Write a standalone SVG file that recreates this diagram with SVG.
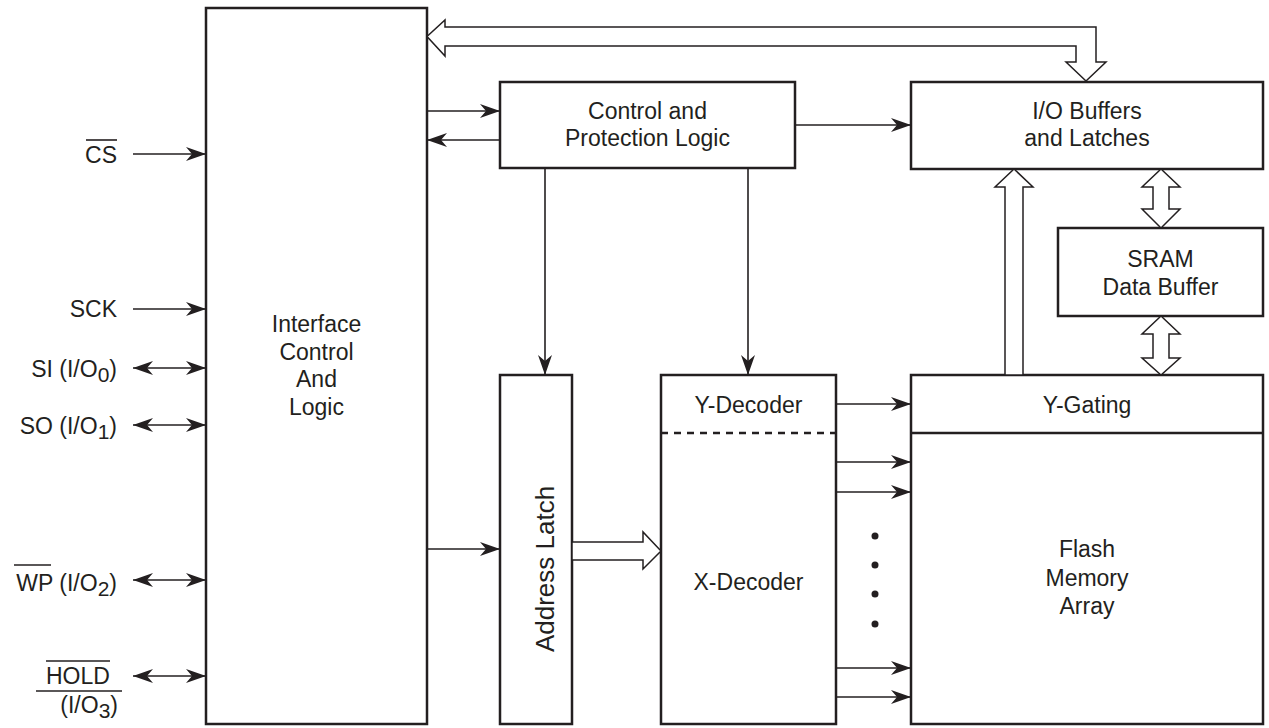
<svg xmlns="http://www.w3.org/2000/svg" width="1269" height="728" viewBox="0 0 1269 728">
<style>
.box{fill:#fff;stroke:#231f20;stroke-width:2.5}
.ln{fill:none;stroke:#231f20;stroke-width:1.6}
.hol{fill:#fff;stroke:#231f20;stroke-width:1.5;stroke-linejoin:miter}
text{font-family:"Liberation Sans",Arial,Helvetica,sans-serif;font-size:23px;fill:#231f20}
.c{text-anchor:middle}
.e{text-anchor:end}
.sub{font-size:21px}
</style>
<defs>
<marker id="ah" viewBox="-20 -8 20 16" refX="0" refY="0" markerWidth="20" markerHeight="16" markerUnits="userSpaceOnUse" orient="auto-start-reverse">
<path d="M0,0 L-20,-7 L-14,0 L-20,7 Z" fill="#231f20"/>
</marker>
</defs>
<rect width="1269" height="728" fill="#fff"/>

<g id="interface">
<rect class="box" x="206" y="8" width="221" height="716"/>
<text class="c" x="316.5" y="332">Interface</text>
<text class="c" x="316.5" y="360">Control</text>
<text class="c" x="316.5" y="387">And</text>
<text class="c" x="316.5" y="415">Logic</text>
</g>

<g id="control">
<rect class="box" x="500" y="82" width="295" height="86"/>
<text class="c" x="647.5" y="119">Control and</text>
<text class="c" x="647.5" y="146">Protection Logic</text>
</g>

<g id="iobuffers">
<rect class="box" x="911" y="82" width="352" height="87"/>
<text class="c" x="1087" y="119">I/O Buffers</text>
<text class="c" x="1087" y="146">and Latches</text>
</g>

<g id="sram">
<rect class="box" x="1058" y="228" width="205" height="88"/>
<text class="c" x="1160.5" y="267">SRAM</text>
<text class="c" x="1160.5" y="295">Data Buffer</text>
</g>

<g id="addresslatch">
<rect class="box" x="500" y="375" width="72" height="349"/>
<text class="c" style="font-size:26px" transform="translate(554,569) rotate(-90)">Address Latch</text>
</g>

<g id="decoder">
<rect class="box" x="661" y="375" width="175" height="349"/>
<line x1="661" y1="433" x2="836" y2="433" stroke="#231f20" stroke-width="2.5" stroke-dasharray="7,6"/>
<text class="c" x="748.5" y="413">Y-Decoder</text>
<text class="c" x="748.5" y="590">X-Decoder</text>
</g>

<g id="flash">
<rect class="box" x="911" y="375" width="352" height="349"/>
<line x1="911" y1="433" x2="1263" y2="433" stroke="#231f20" stroke-width="2.5"/>
<text class="c" x="1087" y="413">Y-Gating</text>
<text class="c" x="1087" y="557">Flash</text>
<text class="c" x="1087" y="586">Memory</text>
<text class="c" x="1087" y="614">Array</text>
</g>

<g id="signals">
<text class="e" x="117" y="163">CS</text>
<line class="ln" x1="86" y1="140" x2="117" y2="140"/>
<text class="e" x="117" y="317">SCK</text>
<text class="e" x="117" y="377">SI (I/O<tspan class="sub" dy="5">0</tspan><tspan dy="-5">)</tspan></text>
<text class="e" x="117" y="434">SO (I/O<tspan class="sub" dy="5">1</tspan><tspan dy="-5">)</tspan></text>
<text class="e" x="117" y="591">WP (I/O<tspan class="sub" dy="5">2</tspan><tspan dy="-5">)</tspan></text>
<line class="ln" x1="14" y1="565" x2="51" y2="565"/>
<text x="46" y="684">HOLD</text>
<line class="ln" x1="46" y1="661" x2="110" y2="661"/>
<line class="ln" x1="36" y1="691" x2="122" y2="691"/>
<text class="e" x="118" y="713">(I/O<tspan class="sub" dy="5">3</tspan><tspan dy="-5">)</tspan></text>
</g>

<g id="connectors">
<line class="ln" x1="133" y1="154" x2="206" y2="154" marker-end="url(#ah)"/>
<line class="ln" x1="133" y1="309" x2="206" y2="309" marker-end="url(#ah)"/>
<line class="ln" x1="133" y1="368" x2="206" y2="368" marker-start="url(#ah)" marker-end="url(#ah)"/>
<line class="ln" x1="133" y1="425" x2="206" y2="425" marker-start="url(#ah)" marker-end="url(#ah)"/>
<line class="ln" x1="133" y1="580" x2="206" y2="580" marker-start="url(#ah)" marker-end="url(#ah)"/>
<line class="ln" x1="133" y1="676" x2="206" y2="676" marker-start="url(#ah)" marker-end="url(#ah)"/>
<line class="ln" x1="427" y1="111" x2="500" y2="111" marker-end="url(#ah)"/>
<line class="ln" x1="500" y1="140" x2="427" y2="140" marker-end="url(#ah)"/>
<line class="ln" x1="795" y1="125" x2="911" y2="125" marker-end="url(#ah)"/>
<line class="ln" x1="545" y1="168" x2="545" y2="375" marker-end="url(#ah)"/>
<line class="ln" x1="748" y1="168" x2="748" y2="375" marker-end="url(#ah)"/>
<line class="ln" x1="427" y1="549" x2="500" y2="549" marker-end="url(#ah)"/>
<line class="ln" x1="836" y1="404" x2="911" y2="404" marker-end="url(#ah)"/>
<line class="ln" x1="836" y1="462" x2="911" y2="462" marker-end="url(#ah)"/>
<line class="ln" x1="836" y1="492" x2="911" y2="492" marker-end="url(#ah)"/>
<line class="ln" x1="836" y1="668" x2="911" y2="668" marker-end="url(#ah)"/>
<line class="ln" x1="836" y1="697" x2="911" y2="697" marker-end="url(#ah)"/>
<polygon class="hol" points="427,36.5 445,20 445,27 1096,27 1096,62 1106,62 1086,81 1066,62 1076,62 1076,46 445,46 445,56"/>
<polygon class="hol" points="661,551 643,532 643,542 572,542 572,560 643,560 643,569"/>
<polygon class="hol" points="1005,375 1005,187 995,187 1014,169 1033,187 1023,187 1023,375"/>
<polygon class="hol" points="1161,169 1180,187 1169,187 1169,209 1180,209 1161,228 1142,209 1153,209 1153,187 1142,187"/>
<polygon class="hol" points="1161,316 1180,334 1169,334 1169,358 1180,358 1161,375 1142,358 1153,358 1153,334 1142,334"/>
<circle cx="875" cy="536" r="3.5" fill="#231f20"/>
<circle cx="875" cy="565" r="3.5" fill="#231f20"/>
<circle cx="875" cy="594" r="3.5" fill="#231f20"/>
<circle cx="875" cy="624" r="3.5" fill="#231f20"/>
</g>
</svg>
